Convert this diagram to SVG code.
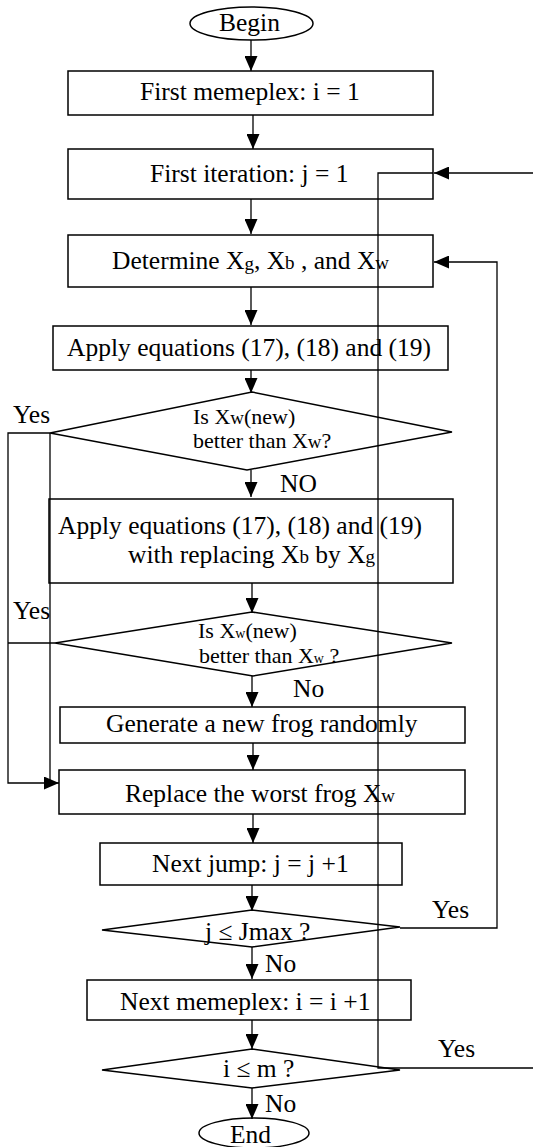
<svg xmlns="http://www.w3.org/2000/svg" width="533" height="1147" viewBox="0 0 533 1147">
<defs>
<style>
.n{fill:#fff;stroke:#000;stroke-width:1.5}
.t{font-family:"Liberation Serif","Times New Roman",serif;font-size:25.5px;fill:#000}
.d{font-family:"Liberation Serif","Times New Roman",serif;font-size:22px;fill:#000}
.s{font-size:19px}
.ss{font-size:14px}
.c{fill:none;stroke:#000;stroke-width:1.3}
</style>
<marker id="a" markerUnits="userSpaceOnUse" markerWidth="15" markerHeight="13" refX="15" refY="6.5" orient="auto">
<path d="M0,0 L15,6.5 L0,13 z" fill="#000"/>
</marker>
</defs>
<g id="begin"><ellipse class="n" cx="251.5" cy="23.5" rx="61.5" ry="16.5"/><text class="t" x="219" y="31">Begin</text></g>
<g id="box1"><rect class="n" x="68" y="71" width="365" height="44"/><text class="t" x="140" y="100">First memeplex: i = 1</text></g>
<g id="box2"><rect class="n" x="68" y="149" width="365" height="50"/><text class="t" x="150" y="182">First iteration: j = 1</text></g>
<g id="box3"><rect class="n" x="68" y="235" width="365" height="52"/><text class="t" x="112" y="269">Determine X<tspan class="s" dy="1">g</tspan><tspan dy="-1">, X</tspan><tspan class="s">b</tspan> , and X<tspan class="s">w</tspan></text></g>
<g id="box4"><rect class="n" x="53" y="326" width="395" height="44"/><text class="t" x="67" y="356">Apply equations (17), (18) and (19)</text></g>
<g id="dec1"><polygon class="n" points="252,392 452,432 247,470 50,433"/><text class="d" x="193" y="424">Is X<tspan class="s">w</tspan>(new)</text><text class="d" x="193" y="448">better than X<tspan class="s">w</tspan>?</text></g>
<g id="box5"><rect class="n" x="49" y="499" width="404" height="84"/><text class="t" x="58" y="534">Apply equations (17), (18) and (19)</text><text class="t" x="128" y="563">with replacing X<tspan class="s">b</tspan> by X<tspan class="s">g</tspan></text></g>
<g id="dec2"><polygon class="n" points="252,612 452,643 253,676 55,643"/><text class="d" x="198" y="638">Is X<tspan class="ss">w</tspan>(new)</text><text class="d" x="199" y="663">better than X<tspan class="ss">w</tspan> ?</text></g>
<g id="box6"><rect class="n" x="60" y="707" width="405" height="36"/><text class="t" x="106" y="732">Generate a new frog randomly</text></g>
<g id="box7"><rect class="n" x="59" y="770" width="406" height="44"/><text class="t" x="125" y="802">Replace the worst frog X<tspan class="s">w</tspan></text></g>
<g id="box8"><rect class="n" x="100" y="843" width="302" height="42"/><text class="t" x="152" y="872">Next jump: j = j +1</text></g>
<g id="dec3"><polygon class="n" points="252,910 400,927 252,947 102,930"/><text class="t" x="205" y="940">j ≤ Jmax ?</text></g>
<g id="box9"><rect class="n" x="87" y="980" width="324" height="40"/><text class="t" x="120" y="1010">Next memeplex: i = i +1</text></g>
<g id="dec4"><polygon class="n" points="252,1049 400,1070 252,1088 102,1070"/><text class="t" x="223" y="1077">i ≤ m ?</text></g>
<g id="end"><ellipse class="n" cx="254" cy="1133" rx="55" ry="15"/><text class="t" x="230" y="1143">End</text></g>
<g id="connectors">
<line class="c" x1="251" y1="40" x2="251" y2="71" marker-end="url(#a)"/>
<line class="c" x1="253" y1="115" x2="253" y2="149" marker-end="url(#a)"/>
<line class="c" x1="251" y1="199" x2="251" y2="234" marker-end="url(#a)"/>
<line class="c" x1="251" y1="287" x2="251" y2="325" marker-end="url(#a)"/>
<line class="c" x1="251" y1="370" x2="251" y2="393" marker-end="url(#a)"/>
<line class="c" x1="251" y1="470" x2="251" y2="497" marker-end="url(#a)"/>
<line class="c" x1="252" y1="583" x2="252" y2="613" marker-end="url(#a)"/>
<line class="c" x1="252" y1="676" x2="252" y2="707" marker-end="url(#a)"/>
<line class="c" x1="253" y1="743" x2="253" y2="770" marker-end="url(#a)"/>
<line class="c" x1="253" y1="814" x2="253" y2="843" marker-end="url(#a)"/>
<line class="c" x1="252" y1="885" x2="252" y2="911" marker-end="url(#a)"/>
<line class="c" x1="252" y1="947" x2="252" y2="979" marker-end="url(#a)"/>
<line class="c" x1="252" y1="1020" x2="252" y2="1049" marker-end="url(#a)"/>
<line class="c" x1="252" y1="1088" x2="252" y2="1119" marker-end="url(#a)"/>
<polyline class="c" points="50,433 8,433 8,783 59,783" marker-end="url(#a)"/>
<line class="c" x1="50" y1="433" x2="50" y2="780"/>
<line class="c" x1="55" y1="643" x2="8" y2="643"/>
<polyline class="c" points="400,928 497,928 497,262 434,262" marker-end="url(#a)"/>
<polyline class="c" points="533,1068 378,1068 378,173 433,173"/>
<line class="c" x1="533" y1="173" x2="434" y2="173" marker-end="url(#a)"/>
</g>
<g id="labels">
<text class="t" x="13" y="423">Yes</text>
<text class="t" x="280" y="492">NO</text>
<text class="t" x="13" y="619">Yes</text>
<text class="t" x="293" y="697">No</text>
<text class="t" x="432" y="918">Yes</text>
<text class="t" x="265" y="972">No</text>
<text class="t" x="438" y="1057">Yes</text>
<text class="t" x="265" y="1112">No</text>
</g>
</svg>
